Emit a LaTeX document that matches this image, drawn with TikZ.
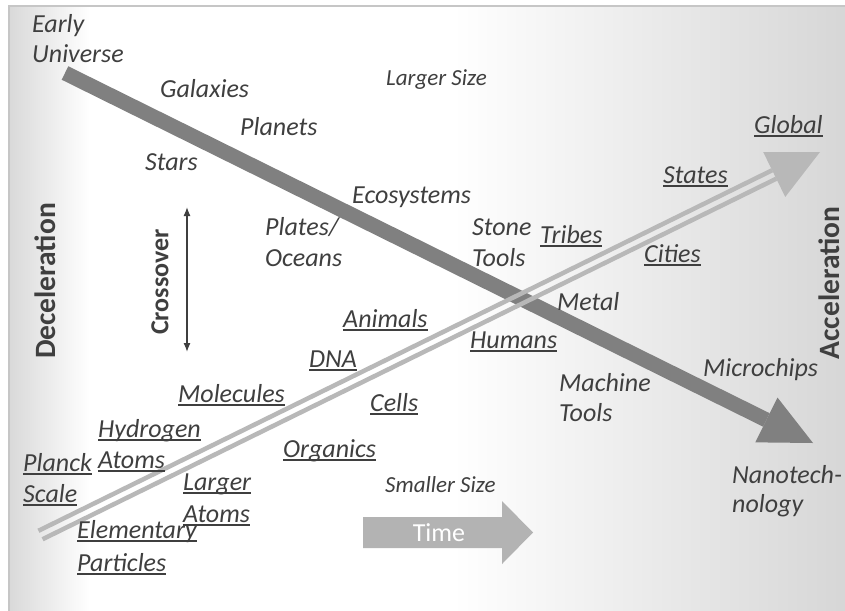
\documentclass[tikz,border=0pt]{standalone}
\usepackage{fontspec}
\setmainfont{Carlito}
\usetikzlibrary{arrows.meta,calc}

\definecolor{ink}{HTML}{3F3F3F}
\definecolor{barDark}{HTML}{808080}
\definecolor{barLight}{HTML}{B8B8B8}
\definecolor{timeFill}{HTML}{B3B3B3}
\definecolor{edgeL}{HTML}{D9D9D9}
\definecolor{edgeR}{HTML}{D6D6D6}
\definecolor{frameLine}{HTML}{C6C6C6}

% grey margins fading to a white middle
\pgfdeclarehorizontalshading{sideshade}{100bp}{%
  color(0bp)=(edgeL); color(25bp)=(edgeL); color(29.8bp)=(white);
  color(51.4bp)=(white); color(75bp)=(edgeR); color(100bp)=(edgeR)}

% underline at a fixed depth, crossing descenders
\newcommand\ulab[1]{\leavevmode\setbox0\hbox{#1}%
  \rlap{\rule[-3.5pt]{\wd0}{1.6pt}}\box0}

\begin{document}
\begin{tikzpicture}[x=1pt,y=-1pt,
  lab/.style={font=\fontsize{26}{31}\selectfont\itshape, text=ink,
              anchor=base west, inner sep=0pt},
  smalllab/.style={lab, font=\fontsize{23}{27}\selectfont\itshape},
  sidelab/.style={font=\fontsize{29.5}{34}\selectfont\bfseries, text=ink,
                  rotate=90, inner sep=0pt},
  crosslab/.style={font=\fontsize{26}{31}\selectfont\bfseries, text=ink,
                   rotate=90, inner sep=0pt},
  darkbar/.style={draw=barDark, line width=15pt},
  lightbar/.style={draw=barLight, line width=4.5pt},
]
\useasboundingbox (0,0) rectangle (845,610);

% background panel
\path[shading=sideshade] (9,6) rectangle (850,615);
\draw[frameLine, line width=1.5pt] (850,6) -- (9,6) -- (9,615);

% descending (deceleration) arrow
\coordinate (eu) at (65,73);
\coordinate (nano) at (813,443);
\coordinate (nb) at ($(nano)!52pt!(eu)$);
\draw[darkbar] (eu) -- (nb);
\fill[barDark] (nano) -- ($(nb)!25pt!90:(nano)$) -- ($(nb)!25pt!-90:(nano)$) -- cycle;

% ascending (acceleration) double arrow
\coordinate (pl) at (40.5,535);
\coordinate (gl) at (820,152);
\coordinate (gb) at ($(gl)!51pt!(pl)$);
\draw[lightbar] ($(pl)!4.7pt!90:(gl)$) -- ($(gb)!4.7pt!90:(gl)$);
\draw[lightbar] ($(pl)!4.7pt!-90:(gl)$) -- ($(gb)!4.7pt!-90:(gl)$);
\fill[barLight] (gl) -- ($(gb)!25pt!90:(gl)$) -- ($(gb)!25pt!-90:(gl)$) -- cycle;

% time arrow
\fill[timeFill] (363,517) -- (502,517) -- (502,501) -- (533,532.5)
  -- (502,564) -- (502,548) -- (363,548) -- cycle;
\node[font=\fontsize{26}{31}\selectfont, text=white, anchor=base, inner sep=0pt]
  (time) at (439,541) {Time};

% crossover marker
\coordinate (cxtop) at (187,207);
\coordinate (cxbot) at (187,352);
\draw[ink, line width=1.3pt, {Latex[length=9pt,width=7pt]}-{Latex[length=9pt,width=7pt]}]
  (cxtop) -- (cxbot);
\node[crosslab] (cross) at (160,282) {Crossover};

% side titles
\node[sidelab] (decel) at (45,281) {Deceleration};
\node[sidelab] (accel) at (829.5,283) {Acceleration};

% size labels
\node[smalllab] (larger) at (386,85) {Larger Size};
\node[smalllab] (smaller) at (385,492) {Smaller Size};

% descending sequence
\node[lab] (early1) at (32,33) {Early};
\node[lab] (early2) at (32,63) {Universe};
\node[lab] (galax) at (160,97) {Galaxies};
\node[lab] (plan) at (240,135) {Planets};
\node[lab] (stars) at (145,170) {Stars};
\node[lab] (eco) at (352,203) {Ecosystems};
\node[lab] (plate1) at (265,235) {Plates/};
\node[lab] (plate2) at (265,266) {Oceans};
\node[lab] (stone1) at (472,235) {Stone};
\node[lab] (stone2) at (472,266) {Tools};
\node[lab] (metal) at (557,310) {Metal};
\node[lab] (mach1) at (559,391) {Machine};
\node[lab] (mach2) at (559,421) {Tools};
\node[lab] (micro) at (703,376) {Microchips};
\node[lab] (nano1) at (732,483) {Nanotech-};
\node[lab] (nano2) at (732,512) {nology};

% ascending sequence
\node[lab] (planck1) at (23,471) {\ulab{Planck}};
\node[lab] (planck2) at (23,502) {\ulab{Scale}};
\node[lab] (elem1) at (77,538) {\ulab{Elementary}};
\node[lab] (elem2) at (77,571) {\ulab{Particles}};
\node[lab] (hyd1) at (98,437) {\ulab{Hydrogen}};
\node[lab] (hyd2) at (98,468) {\ulab{Atoms}};
\node[lab] (lat1) at (183,490) {\ulab{Larger}};
\node[lab] (lat2) at (183,522) {\ulab{Atoms}};
\node[lab] (mol) at (178,402) {\ulab{Molecules}};
\node[lab] (org) at (283,457) {\ulab{Organics}};
\node[lab] (dna) at (309,367) {\ulab{DNA}};
\node[lab] (cells) at (370,411) {\ulab{Cells}};
\node[lab] (anim) at (343,327) {\ulab{Animals}};
\node[lab] (hum) at (470,348) {\ulab{Humans}};
\node[lab] (trib) at (540,243) {\ulab{Tribes}};
\node[lab] (city) at (644,262) {\ulab{Cities}};
\node[lab] (stat) at (663,183) {\ulab{States}};
\node[lab] (glob) at (754,133) {\ulab{Global}};
\end{tikzpicture}
\end{document}
